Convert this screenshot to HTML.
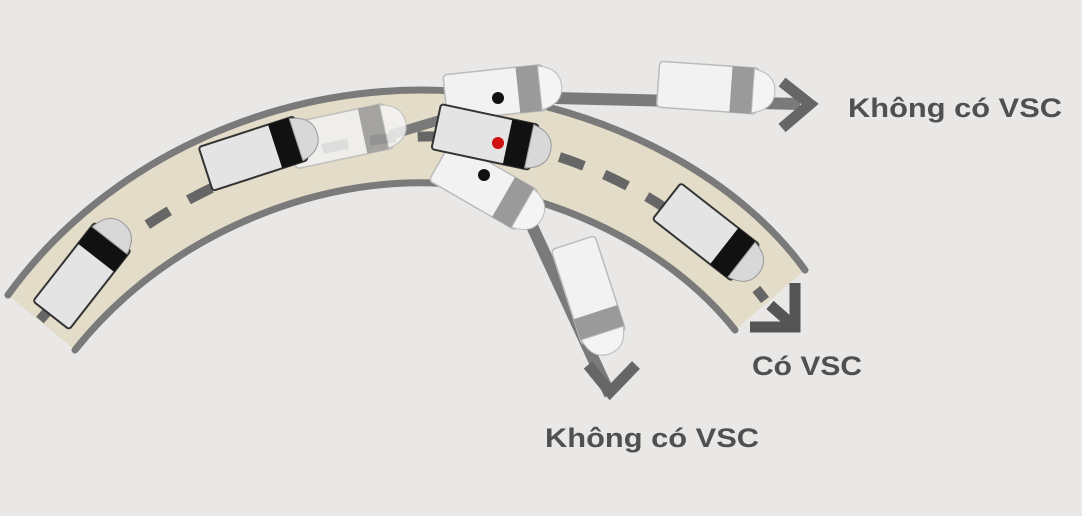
<!DOCTYPE html>
<html><head><meta charset="utf-8"><style>
html,body{margin:0;padding:0;background:#e9e8e6;}
svg{display:block}
text{font-family:"Liberation Sans",sans-serif;font-weight:bold;fill:#505050}
</style></head><body>
<svg width="1082" height="516" viewBox="0 0 1082 516" xmlns="http://www.w3.org/2000/svg">
<defs>
<g id="carB">
  <rect x="-55" y="-23" width="100" height="46" rx="3" fill="#e4e4e4" stroke="#333" stroke-width="2"/>
  <rect x="18" y="-23" width="22" height="46" fill="#111"/>
  <path d="M40,-22 Q62,-18 62,0 Q62,18 40,22 Z" fill="#d8d8d8" stroke="#999" stroke-width="1"/>
</g>
<g id="carW">
  <rect x="-55" y="-23" width="100" height="46" rx="4" fill="#f2f2f2" stroke="#bbb" stroke-width="1.5"/>
  <rect x="18" y="-23" width="22" height="46" fill="#9a9a9a"/>
  <path d="M40,-22 Q62,-18 62,0 Q62,18 40,22 Z" fill="#f4f4f4" stroke="#bbb" stroke-width="1"/>
</g>
</defs>
<rect width="1082" height="516" fill="#e9e8e6"/>
<path d="M8,295 C120,140 320,70 490,95 C620,115 740,180 805,270 L735,330 C680,260 580,200 460,185 C330,170 170,230 75,350 Z" fill="#e2dcc8"/>
<path d="M8,295 C120,140 320,70 490,95 C620,115 740,180 805,270" fill="none" stroke="#7a7a7a" stroke-width="7" stroke-linecap="round"/>
<path d="M75,350 C170,230 330,170 460,185 C580,200 680,260 735,330" fill="none" stroke="#7a7a7a" stroke-width="7" stroke-linecap="round"/>
<path d="M40,320 C150,190 320,125 470,138 C590,150 700,215 765,300" fill="none" stroke="#666" stroke-width="10" stroke-dasharray="26,22"/>
<path d="M390,135 L440,120" stroke="#7a7a7a" stroke-width="10"/>
<path d="M555,98 L800,104" stroke="#7a7a7a" stroke-width="12" fill="none"/>
<path d="M782,82 L810,104 L782,128" stroke="#666" stroke-width="11" fill="none"/>
<path d="M520,200 L610,395" stroke="#7a7a7a" stroke-width="12" fill="none"/>
<path d="M588,365 L610,392 L636,365" stroke="#666" stroke-width="11" fill="none"/>
<path d="M795,283 L795,327 L750,327" stroke="#555" stroke-width="11" fill="none"/>
<path d="M770,305 L795,327" stroke="#555" stroke-width="11"/>
<use href="#carB" transform="translate(85,272) rotate(-52)"/>
<g opacity="0.85"><use href="#carW" transform="translate(345,135) rotate(-12)"/></g>
<use href="#carB" transform="translate(258,152) rotate(-18)"/>
<use href="#carW" transform="translate(713,88) rotate(4)"/>
<use href="#carW" transform="translate(590,295) rotate(72)"/>
<use href="#carW" transform="translate(500,92) rotate(-6)"/>
<circle cx="498" cy="98" r="6" fill="#111"/>
<use href="#carW" transform="translate(488,188) rotate(30)"/>
<circle cx="484" cy="175" r="6" fill="#111"/>
<use href="#carB" transform="translate(490,138) rotate(12)"/>
<circle cx="498" cy="143" r="6" fill="#d01010"/>
<use href="#carB" transform="translate(710,235) rotate(38)"/>
<text x="848" y="117" font-size="27" textLength="214" lengthAdjust="spacingAndGlyphs">Không có VSC</text>
<text x="752" y="375" font-size="27" textLength="110" lengthAdjust="spacingAndGlyphs">Có VSC</text>
<text x="545" y="447" font-size="27" textLength="214" lengthAdjust="spacingAndGlyphs">Không có VSC</text>
</svg>
</body></html>
